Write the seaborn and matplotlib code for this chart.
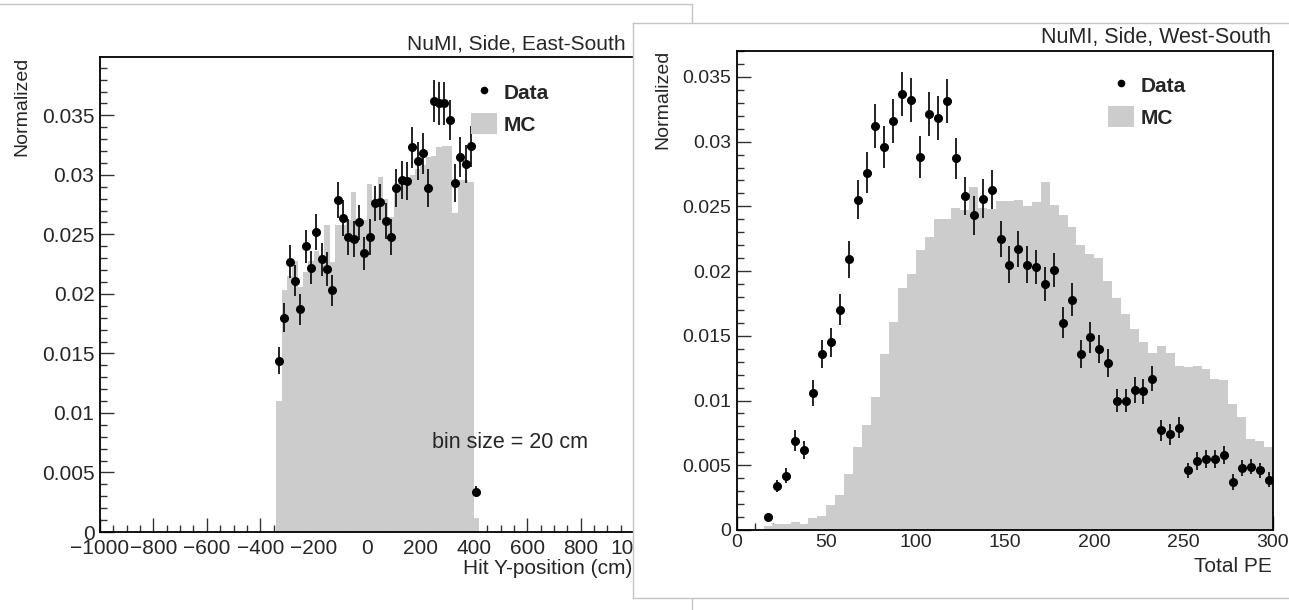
import numpy as np
import pandas as pd
import matplotlib
matplotlib.use("Agg")
import matplotlib.pyplot as plt
import seaborn as sns
from matplotlib.lines import Line2D
from matplotlib.patches import Patch
from matplotlib.ticker import MultipleLocator, FuncFormatter

# ---- left panel: NuMI, Side, East-South (hit Y-position, 20 cm bins) ----
ypos_edges = np.arange(-340, 421, 20)
ypos_mc = [0.0110, 0.0203, 0.0215, 0.0228, 0.0206, 0.0218, 0.0228, 0.0236,
           0.0233, 0.0258, 0.0227, 0.0258, 0.0258, 0.0262, 0.0286, 0.0258,
           0.0262, 0.0292, 0.0275, 0.0298, 0.0280, 0.0265, 0.0293, 0.0295,
           0.0298, 0.0300, 0.0305, 0.0308, 0.0315, 0.0316, 0.0323, 0.0324,
           0.0324, 0.0268, 0.0296, 0.0296, 0.0294, 0.0012]
ypos_centers = np.arange(-330, 411, 20)
ypos_data = [0.0144, 0.0180, 0.0227, 0.0211, 0.0187, 0.0240, 0.0222, 0.0252,
             0.0229, 0.0221, 0.0203, 0.0279, 0.0264, 0.0248, 0.0246, 0.0260,
             0.0234, 0.0248, 0.0276, 0.0277, 0.0261, 0.0248, 0.0289, 0.0296,
             0.0295, 0.0323, 0.0312, 0.0318, 0.0289, 0.0362, 0.0360, 0.0360,
             0.0346, 0.0293, 0.0315, 0.0309, 0.0324, 0.0034]
ypos_err = [0.0011, 0.0012, 0.0014, 0.0013, 0.0013, 0.0014, 0.0014, 0.0015,
            0.0014, 0.0014, 0.0013, 0.0015, 0.0015, 0.0015, 0.0015, 0.0015,
            0.0014, 0.0015, 0.0015, 0.0015, 0.0015, 0.0015, 0.0016, 0.0016,
            0.0016, 0.0017, 0.0016, 0.0017, 0.0016, 0.0018, 0.0018, 0.0018,
            0.0017, 0.0016, 0.0017, 0.0016, 0.0017, 0.0005]

# ---- right panel: NuMI, Side, West-South (total PE, 5 PE bins) ----
pe_edges = np.arange(0, 301, 5)
pe_mc = [0.0, 0.0, 0.0, 0.0003, 0.0005, 0.0005, 0.0006, 0.0005, 0.0009, 0.0011,
         0.0019, 0.0027, 0.0043, 0.0064, 0.0081, 0.0103, 0.0136, 0.0161, 0.0187, 0.0198,
         0.0216, 0.0226, 0.0240, 0.0240, 0.0249, 0.0247, 0.0265, 0.0249, 0.0248, 0.0254,
         0.0254, 0.0255, 0.0250, 0.0253, 0.0269, 0.0251, 0.0243, 0.0234, 0.0220, 0.0213,
         0.0210, 0.0192, 0.0179, 0.0167, 0.0155, 0.0145, 0.0137, 0.0142, 0.0137, 0.0127,
         0.0126, 0.0127, 0.0124, 0.0117, 0.0116, 0.0097, 0.0087, 0.0070, 0.0069, 0.0064]
pe_centers = np.arange(17.5, 300, 5)
pe_data = [0.0010, 0.0034, 0.0042, 0.0069, 0.0062, 0.0106, 0.0136, 0.0145, 0.0170, 0.0209,
           0.0255, 0.0276, 0.0312, 0.0296, 0.0316, 0.0337, 0.0332, 0.0288, 0.0321, 0.0318,
           0.0331, 0.0287, 0.0258, 0.0243, 0.0256, 0.0263, 0.0225, 0.0205, 0.0217, 0.0205,
           0.0203, 0.0190, 0.0201, 0.0160, 0.0178, 0.0136, 0.0149, 0.0140, 0.0129, 0.0100,
           0.0100, 0.0108, 0.0107, 0.0117, 0.0077, 0.0074, 0.0079, 0.0046, 0.0053, 0.0055,
           0.0055, 0.0058, 0.0037, 0.0048, 0.0049, 0.0046, 0.0039]
pe_err = [0.0003, 0.0005, 0.0006, 0.0008, 0.0007, 0.0010, 0.0011, 0.0011, 0.0012, 0.0014,
          0.0015, 0.0016, 0.0017, 0.0016, 0.0017, 0.0017, 0.0017, 0.0016, 0.0017, 0.0017,
          0.0017, 0.0016, 0.0015, 0.0015, 0.0015, 0.0015, 0.0014, 0.0014, 0.0014, 0.0014,
          0.0013, 0.0013, 0.0013, 0.0012, 0.0013, 0.0011, 0.0012, 0.0011, 0.0011, 0.0009,
          0.0009, 0.0010, 0.0010, 0.0010, 0.0008, 0.0008, 0.0008, 0.0006, 0.0007, 0.0007,
          0.0007, 0.0007, 0.0006, 0.0006, 0.0006, 0.0006, 0.0006]

W, H = 1289, 610
MC_GRAY = "#cccccc"
BORDER = "#c4c4c4"


def fx(px):
    return px / W


def fy(py):
    return 1 - py / H


def rect(left, top, right, bottom):
    return [fx(left), fy(bottom), (right - left) / W, (bottom - top) / H]


def y_fmt(v, pos):
    return "0" if abs(v) < 1e-12 else "%g" % round(v, 4)


def style_axes(ax, xmaj, xmin, size, xpad):
    for s in ax.spines.values():
        s.set_color("black")
        s.set_linewidth(1.3)
    ax.xaxis.set_major_locator(MultipleLocator(xmaj))
    ax.xaxis.set_minor_locator(MultipleLocator(xmin))
    ax.yaxis.set_major_locator(MultipleLocator(0.005))
    ax.yaxis.set_minor_locator(MultipleLocator(0.001))
    ax.yaxis.set_major_formatter(FuncFormatter(y_fmt))
    ax.tick_params(which="both", direction="in", top=False, right=False,
                   bottom=True, left=True, width=1.0, color="#333333")
    ax.tick_params(which="major", length=10, labelsize=size)
    ax.tick_params(which="minor", length=5)
    ax.tick_params(axis="x", pad=xpad)
    ax.tick_params(axis="y", pad=4)
    ax.set_xlabel("")
    ax.set_ylabel("")
    ax.grid(False)


def draw_panel(ax, edges, mc, centers, data, err):
    mc_df = pd.DataFrame({"low": edges[:-1], "value": mc})
    width = float(edges[1] - edges[0])
    sns.histplot(data=mc_df, x="low", weights="value", binwidth=width,
                 binrange=(float(edges[0]), float(edges[-1])), element="step",
                 fill=True, color=MC_GRAY, alpha=1.0, linewidth=0, ax=ax)
    ax.errorbar(centers, data, yerr=err, fmt="o", color="black", ms=5.5,
                elinewidth=1.3, capsize=0, ecolor="#111111")


def add_legend(ax, anchor, size):
    handles = [Line2D([], [], marker="o", ls="none", color="black", ms=4.5),
               Patch(facecolor=MC_GRAY, edgecolor="none")]
    ax.legend(handles, ["Data", "MC"], loc="upper left", bbox_to_anchor=anchor,
              frameon=False, borderpad=0, borderaxespad=0, handlelength=1.25,
              handleheight=1.2, handletextpad=0.3, labelspacing=0.5,
              prop={"weight": "bold", "size": size})


sns.set_theme(style="white")
plt.rcParams["font.family"] = ["Liberation Sans", "DejaVu Sans"]

fig = plt.figure(figsize=(W / 100, H / 100), dpi=100)
fig.patch.set_facecolor("white")

# left canvas border
fig.add_artist(Line2D([0, fx(692)], [fy(4), fy(4)], color=BORDER, lw=1.0,
                      transform=fig.transFigure, zorder=0.5))
fig.add_artist(Line2D([fx(692), fx(692)], [fy(4), 0], color=BORDER, lw=1.0,
                      transform=fig.transFigure, zorder=1.5))

# left panel
ax1 = fig.add_axes(rect(100, 57, 634, 532), zorder=1)
draw_panel(ax1, ypos_edges, ypos_mc, ypos_centers, ypos_data, ypos_err)
ax1.set_xlim(-1000, 1000)
ax1.set_ylim(0, 0.0399)
style_axes(ax1, 200, 50, 15, 5)
add_legend(ax1, ((471 - 100) / 534, (532 - 81) / 475), 15)
fig.text(fx(626), fy(44), "NuMI, Side, East-South", ha="right", va="center",
         fontsize=15, zorder=1.2)
fig.text(fx(22), fy(57), "Normalized", rotation=90, ha="center", va="top",
         fontsize=14, zorder=1.2)
fig.text(fx(632), fy(569), "Hit Y-position (cm)", ha="right", va="center",
         fontsize=15, zorder=1.2)
fig.text(fx(432), fy(443), "bin size = 20 cm", ha="left", va="center",
         fontsize=15.5, zorder=1.2)

# right canvas (covers part of the left one)
canvas = fig.add_axes(rect(633, 23, 1289, 598), zorder=2)
canvas.set_facecolor("white")
canvas.set_xticks([])
canvas.set_yticks([])
for name, s in canvas.spines.items():
    s.set_color(BORDER)
    s.set_linewidth(1.0)
canvas.spines["right"].set_visible(False)

# right panel
ax2 = fig.add_axes(rect(737, 51, 1273, 530), zorder=3)
draw_panel(ax2, pe_edges, pe_mc, pe_centers, pe_data, pe_err)
ax2.set_xlim(0, 300)
ax2.set_ylim(0, 0.0370)
style_axes(ax2, 50, 10, 14, 3)
add_legend(ax2, ((1108 - 737) / 536, (530 - 74) / 479), 15)
fig.text(fx(1271), fy(38), "NuMI, Side, West-South", ha="right", va="center",
         fontsize=15.5, zorder=4)
fig.text(fx(663), fy(50), "Normalized", rotation=90, ha="center", va="top",
         fontsize=14, zorder=4)
fig.text(fx(1272), fy(566), "Total PE", ha="right", va="center",
         fontsize=15, zorder=4)

fig.savefig("out.png", dpi=100, facecolor="white")
